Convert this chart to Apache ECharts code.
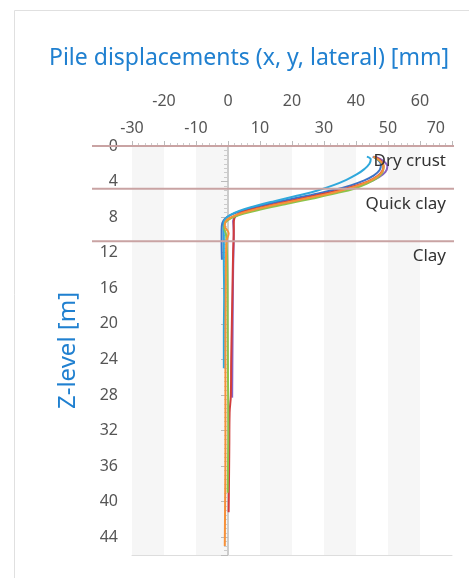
<!DOCTYPE html>
<html>
<head>
<meta charset="utf-8">
<script src="https://cdn.jsdelivr.net/npm/echarts@6/dist/echarts.min.js"></script>
<style>
  html, body { margin: 0; padding: 0; background: #fff; }
  #chart { width: 469px; height: 578px; }
</style>
</head>
<body>
<div id="chart"></div>
<script>
// axis tick labels (top axis is drawn in two staggered rows)
const innerTicks = [-30, -10, 10, 30, 50, 70]
const outerTicks = [-20, 0, 20, 40, 60]

// soil layers: top depth [m] and name
const layerTops = [0, 4.8, 10.7]
const layerNames = ['Dry crust', 'Quick clay', 'Clay']

// pile curves: depth z [m] and lateral displacement x [mm]
const zBlue = [1.2, 1.6, 2.1, 2.7, 3.3, 3.9, 4.4, 4.9, 5.5, 6.1, 6.7, 7.2, 7.7, 8.2, 8.7, 9.5, 11, 12.8]
const xBlue = [45.2, 47.0, 47.8, 47.4, 45.6, 42.4, 38.6, 33.6, 26.0, 18.0, 10.5, 5.0, 1.2, -1.0, -1.8, -2.0, -2.0, -1.9]

const zPurple = [1.2, 1.7, 2.3, 2.9, 3.5, 4.1, 4.6, 5.1, 5.7, 6.3, 6.9, 7.4, 7.9, 8.4, 9.0, 10, 14, 18, 23, 28.3]
const xPurple = [46.0, 48.6, 49.8, 49.2, 47.2, 43.8, 39.6, 34.2, 26.5, 18.5, 11.0, 5.5, 2.5, 1.6, 1.7, 1.8, 1.6, 1.5, 1.4, 1.3]

const zRed = [1.2, 1.6, 2.2, 2.8, 3.4, 4.0, 4.5, 5.0, 5.6, 6.2, 6.8, 7.3, 7.7, 8.1, 8.8, 9.5, 12, 16, 20, 24, 28, 30, 34, 38, 41.2]
const xRed = [45.6, 47.6, 48.6, 48.2, 46.6, 43.6, 39.6, 34.5, 27.0, 19.0, 11.5, 5.5, 3.0, 2.0, 1.8, 1.8, 1.6, 1.4, 1.2, 1.0, 0.9, 0.5, 0.4, 0.3, 0.2]

const zCyan = [1.2, 1.5, 2.0, 2.6, 3.2, 3.8, 4.4, 5.0, 5.6, 6.2, 6.8, 7.3, 7.8, 8.3, 8.9, 10, 13, 17, 21, 25]
const xCyan = [43.4, 44.6, 44.2, 42.6, 40.2, 37.0, 33.0, 28.0, 21.5, 14.5, 8.0, 3.5, 0.5, -1.0, -1.4, -1.3, -1.3, -1.2, -1.3, -1.3]

const zGreen = [1.3, 1.8, 2.4, 3.0, 3.6, 4.2, 4.8, 5.3, 5.9, 6.5, 7.1, 7.6, 8.1, 8.6, 9.2, 10, 14, 20, 26, 32, 36, 39]
const xGreen = [45.8, 47.8, 48.6, 48.2, 46.6, 43.6, 39.4, 34.0, 26.5, 18.5, 10.8, 5.0, 1.0, -0.8, -1.2, -0.6, -0.2, -0.1, 0.0, 0.1, 0.0, -0.1]

const zOrange = [1.2, 1.7, 2.3, 2.9, 3.5, 4.1, 4.6, 5.2, 5.8, 6.4, 7.0, 7.5, 8.0, 8.5, 9.0, 9.8, 10.6, 12, 16, 22, 28, 34, 40, 45]
const xOrange = [45.4, 47.6, 48.6, 48.2, 46.4, 43.2, 39.4, 33.4, 25.8, 17.6, 10.0, 4.6, 1.0, -0.8, -1.0, 0.2, -0.4, -0.6, -0.7, -0.8, -0.8, -0.8, -0.9, -1.0]

const piles = [
  { z: zBlue, x: xBlue, color: '#3d72c4' },
  { z: zPurple, x: xPurple, color: '#8a62c0' },
  { z: zRed, x: xRed, color: '#d23c3c' },
  { z: zCyan, x: xCyan, color: '#2fa8dc' },
  { z: zGreen, x: xGreen, color: '#8cc44a' },
  { z: zOrange, x: xOrange, color: '#f6913a' },
]

const blue = '#2080d0'
const labelGray = '#555'
const font = 'Noto Sans'

const chart = echarts.init(document.getElementById('chart'))

const option = {
  backgroundColor: '#fff',
  animation: false,
  textStyle: { fontFamily: font },
  title: {
    text: 'Pile displacements (x, y, lateral) [mm]',
    left: 49,
    top: 47,
    padding: 0,
    textStyle: { color: blue, fontSize: 23, fontWeight: 'normal', fontFamily: font },
  },
  grid: { left: 132, right: 17, top: 146, bottom: 23 },
  xAxis: [
    {
      type: 'value',
      position: 'top',
      min: -30,
      max: 70,
      interval: 10,
      axisLine: { show: true, lineStyle: { color: '#ccc', width: 1 } },
      axisTick: { show: true, length: 5, lineStyle: { color: '#bbb' } },
      minorTick: { show: true, splitNumber: 5, length: 3, lineStyle: { color: '#ccc' } },
      axisLabel: {
        margin: 10,
        color: labelGray,
        fontSize: 16,
        alignMaxLabel: 'right',
        formatter: (v) => innerTicks.includes(v) ? (v === 70 ? '{last|70}' : String(v)) : '',
        rich: { last: { fontSize: 16, color: labelGray, padding: [0, 7, 0, 0] } },
      },
      splitLine: { show: false },
      splitArea: { show: true, areaStyle: { color: ['#f6f6f6', '#ffffff'] } },
    },
    {
      type: 'value',
      position: 'top',
      min: -30,
      max: 70,
      interval: 10,
      axisLine: { show: false },
      axisTick: { show: false },
      axisLabel: {
        margin: 37,
        color: labelGray,
        fontSize: 16,
        formatter: (v) => outerTicks.includes(v) ? String(v) : '',
      },
      splitLine: { show: false },
    },
    {
      type: 'value',
      position: 'bottom',
      min: -30,
      max: 70,
      axisLine: { show: true, lineStyle: { color: '#ddd', width: 1 } },
      axisTick: { show: false },
      axisLabel: { show: false },
      splitLine: { show: false },
    },
  ],
  yAxis: {
    type: 'value',
    inverse: true,
    min: 0,
    max: 46,
    interval: 4,
    name: 'Z-level [m]',
    nameLocation: 'middle',
    nameGap: 52,
    nameTextStyle: { color: blue, fontSize: 24 },
    axisLine: { show: true, lineStyle: { color: '#ccc', width: 2 } },
    axisTick: { show: true, length: 7, lineStyle: { color: '#bbb' } },
    minorTick: { show: true, splitNumber: 8, length: 4, lineStyle: { color: '#ccc' } },
    axisLabel: { margin: 14, color: labelGray, fontSize: 16, showMaxLabel: false },
    splitLine: { show: false },
  },
  series: piles.map((p) => ({
    type: 'line',
    xAxisIndex: 0,
    data: p.z.map((z, i) => [p.x[i], z]),
    symbol: 'none',
    smooth: 0.4,
    lineStyle: { color: p.color, width: 2 },
  })),
}

chart.setOption(option)

// layer boundaries reach past the axis into the label area, so place them after layout
const drawLayers = () => {
  const xRight = chart.convertToPixel({ xAxisIndex: 0 }, 70)
  const elements = [
    {
      type: 'rect',
      shape: { x: 14.5, y: 10.5, width: 500, height: 600 },
      style: { fill: 'none', stroke: '#e0e0e0', lineWidth: 1 },
      silent: true,
      z: 0,
    },
  ]
  layerTops.forEach((z, i) => {
    const y = chart.convertToPixel({ yAxisIndex: 0 }, z)
    elements.push({
      type: 'line',
      shape: { x1: 92, y1: y, x2: xRight + 2, y2: y },
      style: { stroke: '#c9a3a3', lineWidth: 2 },
      silent: true,
      z: 10,
    })
    elements.push({
      type: 'text',
      x: xRight - 6,
      y: y + 15,
      style: {
        text: layerNames[i],
        fill: '#333',
        font: '17px "' + font + '"',
        align: 'right',
        verticalAlign: 'middle',
      },
      silent: true,
      z: 11,
    })
  })
  chart.setOption({ graphic: elements })
}
drawLayers()
</script>
</body>
</html>
